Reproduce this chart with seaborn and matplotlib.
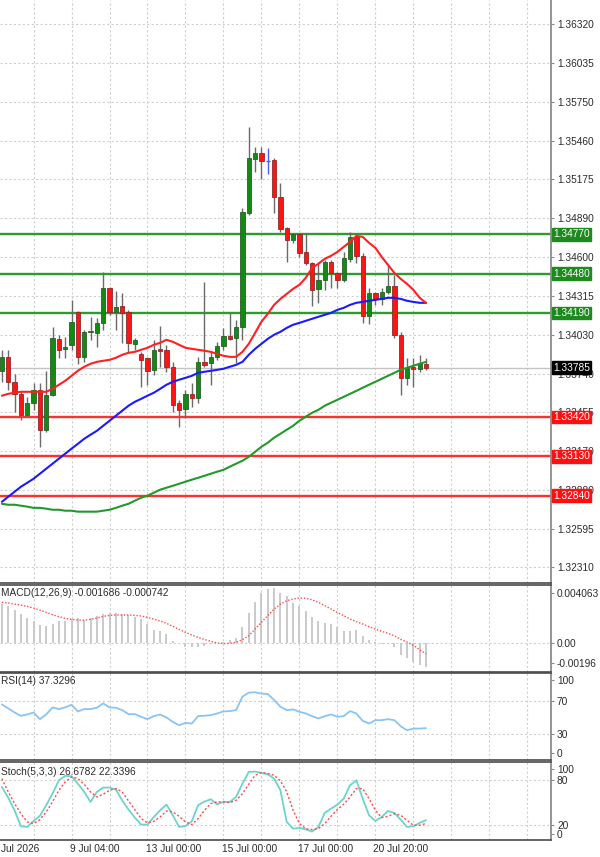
import numpy as np
import pandas as pd
import matplotlib
matplotlib.use("Agg")
import matplotlib.pyplot as plt
import matplotlib.transforms as mtransforms
import seaborn as sns

sns.set_theme(style="white")
plt.rcParams['font.family'] = ['Liberation Sans', 'DejaVu Sans']

# ---------------- data (4H candles) ----------------
opens = [1.33762, 1.33865, 1.33681, 1.33592, 1.33437, 1.33526, 1.33622, 1.33327, 1.33585, 1.33998,
         1.33924, 1.33954, 1.34197, 1.33865, 1.34050, 1.34042, 1.34116, 1.34375, 1.34197, 1.34242,
         1.34197, 1.33961, 1.33887, 1.33858, 1.33769, 1.33924, 1.33917, 1.33792, 1.33526, 1.33482,
         1.33592, 1.33563, 1.33828, 1.33821, 1.33865, 1.33947, 1.34020, 1.34006, 1.34087, 1.34928,
         1.35327, 1.35371, 1.35312, 1.35319, 1.35046, 1.34817, 1.34729, 1.34773, 1.34640, 1.34559,
         1.34367, 1.34434, 1.34566, 1.34485, 1.34434, 1.34589, 1.34751, 1.34611, 1.34168, 1.34338,
         1.34293, 1.34345, 1.34389, 1.34028, 1.33710, 1.33792, 1.33777, 1.33814]
highs = [1.33917, 1.33917, 1.33740, 1.33607, 1.33570, 1.33673, 1.33673, 1.33762, 1.34087, 1.34028,
         1.34013, 1.34286, 1.34205, 1.34065, 1.34161, 1.34153, 1.34493, 1.34382, 1.34352, 1.34338,
         1.34212, 1.34006, 1.33902, 1.33865, 1.33991, 1.34094, 1.33954, 1.33828, 1.33548, 1.33622,
         1.33673, 1.33865, 1.34419, 1.33902, 1.33976, 1.34079, 1.34190, 1.34138, 1.34965, 1.35563,
         1.35415, 1.35415, 1.35408, 1.35334, 1.35149, 1.34825, 1.34780, 1.34780, 1.34780, 1.34566,
         1.34566, 1.34581, 1.34581, 1.34493, 1.34640, 1.34788, 1.34773, 1.34633, 1.34375, 1.34345,
         1.34375, 1.34544, 1.34471, 1.34050, 1.33858, 1.33858, 1.33880, 1.33858]
lows = [1.33681, 1.33622, 1.33459, 1.33400, 1.33423, 1.33474, 1.33201, 1.33312, 1.33578, 1.33858,
        1.33858, 1.33917, 1.33814, 1.33828, 1.33991, 1.33939, 1.34065, 1.34175, 1.34065, 1.33969,
        1.33895, 1.33917, 1.33644, 1.33659, 1.33733, 1.33792, 1.33755, 1.33459, 1.33349, 1.33415,
        1.33496, 1.33526, 1.33792, 1.33659, 1.33843, 1.33917, 1.33991, 1.33821, 1.33991, 1.34913,
        1.35231, 1.35179, 1.35216, 1.34928, 1.34788, 1.34566, 1.34707, 1.34603, 1.34544, 1.34242,
        1.34264, 1.34360, 1.34375, 1.34375, 1.34419, 1.34566, 1.34559, 1.34116, 1.34109, 1.34249,
        1.34249, 1.34330, 1.34006, 1.33585, 1.33659, 1.33644, 1.33755, 1.33769]
closes = [1.33865, 1.33681, 1.33592, 1.33437, 1.33526, 1.33622, 1.33327, 1.33585, 1.34006, 1.33917,
          1.33939, 1.34124, 1.33865, 1.34050, 1.34057, 1.34116, 1.34375, 1.34197, 1.34234, 1.34190,
          1.33969, 1.33991, 1.33843, 1.33762, 1.33917, 1.33910, 1.33792, 1.33511, 1.33474, 1.33592,
          1.33563, 1.33828, 1.33806, 1.33865, 1.33947, 1.34020, 1.33998, 1.34087, 1.34935, 1.35334,
          1.35371, 1.35312, 1.35312, 1.35046, 1.34810, 1.34729, 1.34773, 1.34633, 1.34559, 1.34360,
          1.34434, 1.34566, 1.34485, 1.34434, 1.34596, 1.34751, 1.34611, 1.34168, 1.34338, 1.34293,
          1.34345, 1.34389, 1.34028, 1.33710, 1.33784, 1.33777, 1.33821, 1.33785]

ma_fast = [1.33578, 1.33592, 1.33600, 1.33607, 1.33607, 1.33607, 1.33607, 1.33607, 1.33629, 1.33659,
           1.33688, 1.33725, 1.33762, 1.33792, 1.33814, 1.33828, 1.33836, 1.33843, 1.33858, 1.33880,
           1.33895, 1.33902, 1.33917, 1.33932, 1.33954, 1.33969, 1.33991, 1.33976, 1.33954, 1.33932,
           1.33924, 1.33917, 1.33910, 1.33902, 1.33887, 1.33873, 1.33865, 1.33865, 1.33902, 1.33961,
           1.34042, 1.34124, 1.34183, 1.34249, 1.34293, 1.34330, 1.34367, 1.34397, 1.34448, 1.34522,
           1.34552, 1.34589, 1.34611, 1.34640, 1.34677, 1.34714, 1.34758, 1.34751, 1.34707, 1.34670,
           1.34603, 1.34544, 1.34485, 1.34441, 1.34404, 1.34360, 1.34301, 1.34264]
ma_mid = [1.32795, 1.32832, 1.32869, 1.32906, 1.32935, 1.32965, 1.33002, 1.33039, 1.33076, 1.33113,
          1.33150, 1.33187, 1.33223, 1.33260, 1.33290, 1.33319, 1.33356, 1.33393, 1.33430, 1.33467,
          1.33504, 1.33533, 1.33555, 1.33578, 1.33600, 1.33629, 1.33659, 1.33681, 1.33696, 1.33710,
          1.33725, 1.33747, 1.33755, 1.33762, 1.33769, 1.33777, 1.33792, 1.33806, 1.33828, 1.33880,
          1.33924, 1.33961, 1.33998, 1.34028, 1.34050, 1.34079, 1.34102, 1.34116, 1.34131, 1.34146,
          1.34161, 1.34175, 1.34190, 1.34212, 1.34227, 1.34249, 1.34264, 1.34271, 1.34279, 1.34286,
          1.34293, 1.34301, 1.34301, 1.34293, 1.34279, 1.34271, 1.34264, 1.34264]
ma_slow = [1.32780, 1.32773, 1.32773, 1.32766, 1.32759, 1.32750, 1.32750, 1.32744, 1.32736, 1.32736,
           1.32729, 1.32729, 1.32722, 1.32722, 1.32722, 1.32722, 1.32729, 1.32736, 1.32750, 1.32766,
           1.32780, 1.32803, 1.32825, 1.32840, 1.32862, 1.32884, 1.32899, 1.32913, 1.32928, 1.32943,
           1.32958, 1.32972, 1.32987, 1.33002, 1.33017, 1.33031, 1.33054, 1.33076, 1.33098, 1.33127,
           1.33164, 1.33201, 1.33231, 1.33268, 1.33297, 1.33327, 1.33356, 1.33393, 1.33423, 1.33452,
           1.33474, 1.33504, 1.33526, 1.33548, 1.33570, 1.33592, 1.33614, 1.33637, 1.33659, 1.33681,
           1.33703, 1.33725, 1.33747, 1.33769, 1.33784, 1.33799, 1.33814, 1.33828]

macd_hist = [0.00278, 0.00267, 0.00236, 0.00208, 0.00177, 0.00160, 0.00130, 0.00125, 0.00137, 0.00156,
             0.00160, 0.00172, 0.00177, 0.00165, 0.00179, 0.00196, 0.00208, 0.00215, 0.00212, 0.00208,
             0.00203, 0.00184, 0.00172, 0.00137, 0.00094, 0.00090, 0.00066, 0.00019, 0.00003, -0.00024,
             -0.00028, -0.00024, -0.00017, -0.00005, 0.00004, 0.00010, 0.00024, 0.00038, 0.00118, 0.00212,
             0.00290, 0.00360, 0.00382, 0.00390, 0.00355, 0.00335, 0.00283, 0.00267, 0.00231, 0.00189,
             0.00156, 0.00142, 0.00137, 0.00113, 0.00090, 0.00090, 0.00094, 0.00054, 0.00024, 0.00007,
             -0.00002, -0.00005, -0.00028, -0.00080, -0.00104, -0.00135, -0.00151, -0.001686]
macd_signal = [0.00290, 0.00286, 0.00278, 0.00271, 0.00262, 0.00250, 0.00236, 0.00219, 0.00203, 0.00189,
               0.00177, 0.00170, 0.00165, 0.00165, 0.00170, 0.00179, 0.00191, 0.00198, 0.00201, 0.00201,
               0.00201, 0.00198, 0.00194, 0.00184, 0.00172, 0.00158, 0.00142, 0.00120, 0.00099, 0.00078,
               0.00059, 0.00042, 0.00028, 0.00014, 0.00002, -0.00002, 0.00000, 0.00007, 0.00026, 0.00054,
               0.00101, 0.00149, 0.00196, 0.00243, 0.00278, 0.00302, 0.00314, 0.00321, 0.00319, 0.00309,
               0.00290, 0.00267, 0.00243, 0.00219, 0.00196, 0.00172, 0.00153, 0.00137, 0.00118, 0.00101,
               0.00085, 0.00071, 0.00054, 0.00028, 0.00009, -0.00015, -0.00045, -0.000742]

rsi_vals = [65.6, 60.8, 56.0, 52.0, 53.6, 56.0, 48.0, 53.6, 62.0, 60.0,
            62.0, 65.2, 57.2, 60.0, 60.0, 61.6, 66.8, 62.0, 61.6, 58.8,
            54.0, 54.0, 50.8, 48.0, 51.6, 53.6, 50.0, 44.8, 40.8, 43.6,
            42.8, 51.6, 52.0, 52.8, 54.8, 57.2, 57.6, 58.8, 74.8, 79.6,
            80.0, 78.4, 78.0, 70.8, 62.8, 58.8, 59.6, 56.8, 54.8, 51.6,
            48.8, 51.6, 53.6, 50.8, 51.6, 57.6, 54.8, 46.0, 42.8, 46.8,
            46.8, 48.0, 46.8, 39.6, 34.8, 36.8, 36.8, 37.33]

stoch_k = [70.4, 56.3, 39.7, 18.7, 17.8, 25.7, 32.3, 46.3, 61.6, 79.1,
           84.8, 84.4, 74.7, 63.8, 50.7, 63.8, 69.5, 69.5, 66.9, 52.8,
           40.6, 30.1, 20.9, 20.9, 30.9, 39.7, 47.2, 33.1, 17.8, 19.1,
           25.3, 46.3, 51.1, 54.2, 47.6, 50.7, 50.7, 57.2, 74.7, 90.1,
           90.5, 88.8, 87.0, 81.3, 66.0, 24.4, 15.6, 16.5, 14.7, 11.7,
           17.8, 36.2, 41.9, 47.2, 55.0, 72.6, 79.1, 55.0, 33.1, 25.7,
           30.9, 38.8, 36.2, 27.4, 17.8, 18.7, 23.1, 26.68]
stoch_d = [81.3, 63.8, 48.5, 35.3, 24.4, 22.2, 27.4, 37.5, 50.7, 66.0,
           76.9, 83.5, 81.3, 73.9, 63.8, 57.2, 60.7, 66.0, 68.2, 63.8,
           52.0, 40.6, 28.8, 23.1, 25.3, 30.9, 38.8, 37.5, 31.8, 24.4,
           20.9, 28.8, 39.7, 48.5, 50.7, 50.7, 49.8, 52.8, 61.6, 73.9,
           85.7, 89.2, 87.9, 85.7, 78.2, 63.8, 39.7, 22.2, 15.6, 14.3,
           15.6, 22.2, 31.8, 40.6, 47.6, 57.2, 68.2, 68.2, 55.0, 39.7,
           30.1, 31.8, 35.3, 33.1, 26.6, 20.0, 20.0, 22.34]

price_ticks = [1.36320, 1.36035, 1.35750, 1.35460, 1.35175, 1.34890, 1.34600, 1.34315,
               1.34030, 1.33740, 1.33455, 1.33170, 1.32880, 1.32595, 1.32310]
green_levels = [1.34770, 1.34480, 1.34190]
red_levels = [1.33420, 1.33130, 1.32840]
last_price = 1.33785

macd_label = "MACD(12,26,9) -0.001686 -0.000742"
rsi_label = "RSI(14) 37.3296"
stoch_label = "Stoch(5,3,3) 26.6782 22.3396"
date_labels = ["Jul 2026", "9 Jul 04:00", "13 Jul 00:00", "15 Jul 00:00", "17 Jul 00:00", "20 Jul 20:00"]
date_label_bars = [0.17, 11, 23, 35, 47, 59]

# ---------------- figure ----------------
W, H = 600, 857
fig = plt.figure(figsize=(W / 100, H / 100), dpi=100)
fig.patch.set_facecolor("white")
RIGHT = 550.7


def rect(top, bottom):
    return [0, 1 - bottom / H, RIGHT / W, (bottom - top) / H]


ax = fig.add_axes(rect(0, 583.3))
axm = fig.add_axes(rect(585, 671.7), sharex=ax)
axr = fig.add_axes(rect(673.3, 760), sharex=ax)
axs = fig.add_axes(rect(761.7, 840), sharex=ax)

idx = np.arange(len(closes))
df = pd.DataFrame({"bar": idx, "open": opens, "high": highs, "low": lows, "close": closes,
                   "ma_fast": ma_fast, "ma_mid": ma_mid, "ma_slow": ma_slow,
                   "hist": macd_hist, "signal": macd_signal, "rsi": rsi_vals,
                   "k": stoch_k, "d": stoch_d})

TXT = "#2b2b2b"
GRID = "#cfcfcf"
FS = 7.3
grid_bars = np.arange(5, 87, 6)

for a in (ax, axm, axr, axs):
    a.set_facecolor("white")
    a.set_xlim(-0.3, 86.7)
    for gb in grid_bars:
        a.axvline(gb, color=GRID, lw=0.8, ls=(0, (2, 2)), zorder=0)
    a.spines["left"].set_visible(False)
    a.spines["right"].set_color("#8c8c8c")
    a.spines["right"].set_linewidth(1.3)
    a.spines["top"].set_color("#4a4a4a")
    a.spines["bottom"].set_color("#4a4a4a")
    a.spines["top"].set_linewidth(1.2)
    a.spines["bottom"].set_linewidth(1.2)
    a.tick_params(axis="x", bottom=False, labelbottom=False)
    a.yaxis.tick_right()
    a.tick_params(axis="y", right=True, left=False, labelleft=False, labelright=True,
                  length=2.5, width=0.8, color="#8c8c8c", pad=2.0, labelsize=FS, labelcolor=TXT)
    a.grid(False)
ax.spines["top"].set_visible(False)

# ---------------- main price panel ----------------
ax.set_ylim(1.32193, 1.36500)
ax.set_yticks(price_ticks)
ax.set_yticklabels([f"{v:.5f}" for v in price_ticks])
for v in price_ticks:
    ax.axhline(v, color=GRID, lw=0.8, ls=(0, (2, 2)), zorder=0)

ax.axhline(last_price, color="#c4c4c4", lw=1.0, zorder=0.6)
for lv in green_levels:
    ax.axhline(lv, color="#2f9a2f", lw=1.7, zorder=1)
for lv in red_levels:
    ax.axhline(lv, color="#ff3030", lw=1.7, zorder=1)

up = df["close"] > df["open"]
dn = df["close"] < df["open"]
eq = df["close"] == df["open"]
ax.vlines(df["bar"][~eq], df["low"][~eq], df["high"][~eq], color="#6a6a6a", lw=1.0, zorder=2)
ax.vlines(df["bar"][eq], df["low"][eq], df["high"][eq], color="#4f5dff", lw=1.0, zorder=2)
ax.hlines(df["close"][eq], df["bar"][eq] - 0.34, df["bar"][eq] + 0.34, color="#4f5dff", lw=1.0, zorder=3)
ax.bar(df["bar"][up], (df["close"] - df["open"])[up], bottom=df["open"][up], width=0.68,
       color="#138a13", edgecolor="#2a5e2a", linewidth=0.6, zorder=3)
ax.bar(df["bar"][dn], (df["open"] - df["close"])[dn], bottom=df["close"][dn], width=0.68,
       color="#ff1414", edgecolor="#8a2b2b", linewidth=0.6, zorder=3)

sns.lineplot(data=df, x="bar", y="ma_slow", ax=ax, color="#22992a", lw=1.5, zorder=4)
sns.lineplot(data=df, x="bar", y="ma_mid", ax=ax, color="#1a1aff", lw=1.5, zorder=4)
sns.lineplot(data=df, x="bar", y="ma_fast", ax=ax, color="#ff2020", lw=1.5, zorder=4)
ax.set_xlabel("")
ax.set_ylabel("")

tr = mtransforms.blended_transform_factory(ax.transAxes, ax.transData)
xbox = 1 + 2.6 / RIGHT
for lv in green_levels:
    ax.text(xbox, lv, f"{lv:.5f}", transform=tr, ha="left", va="center", fontsize=FS, color="white",
            bbox=dict(boxstyle="square,pad=0.12", fc="#1c8a1c", ec="#1c8a1c"), clip_on=False, zorder=10)
for lv in red_levels:
    ax.text(xbox, lv, f"{lv:.5f}", transform=tr, ha="left", va="center", fontsize=FS, color="white",
            bbox=dict(boxstyle="square,pad=0.12", fc="#ff1010", ec="#ff1010"), clip_on=False, zorder=10)
ax.text(xbox, last_price, f"{last_price:.5f}", transform=tr, ha="left", va="center", fontsize=FS,
        color="white", bbox=dict(boxstyle="square,pad=0.12", fc="black", ec="black"),
        clip_on=False, zorder=11)

# ---------------- MACD panel ----------------
axm.set_ylim(-0.00201, 0.004134)
axm.axhline(0, color=GRID, lw=0.8, ls=(0, (2, 2)), zorder=0)
axm.vlines(df["bar"], 0, df["hist"], color="#c6c6c6", lw=1.3, zorder=2)
sns.lineplot(data=df, x="bar", y="signal", ax=axm, color="#ff4a4a", lw=1.0, ls=(0, (1, 1.3)), zorder=3)
axm.set_yticks([0.00356, 0.0, -0.0014])
axm.set_yticklabels(["0.004063", "0.00", "-0.00196"])
axm.text(0.001, 0.905, macd_label, transform=axm.transAxes, ha="left", va="center",
         fontsize=FS, color=TXT)

# ---------------- RSI panel ----------------
axr.set_ylim(-0.6, 102.6)
for v in (70, 30):
    axr.axhline(v, color=GRID, lw=0.8, ls=(0, (2, 2)), zorder=0)
sns.lineplot(data=df, x="bar", y="rsi", ax=axr, color="#8ac4f2", lw=1.3, zorder=3)
axr.set_yticks([94.6, 70, 30, 7.4])
axr.set_yticklabels(["100", "70", "30", "0"])
axr.text(0.001, 0.91, rsi_label, transform=axr.transAxes, ha="left", va="center",
         fontsize=FS, color=TXT)

# ---------------- Stochastic panel ----------------
axs.set_ylim(0.66, 103.5)
for v in (80, 20):
    axs.axhline(v, color=GRID, lw=0.8, ls=(0, (2, 2)), zorder=0)
sns.lineplot(data=df, x="bar", y="k", ax=axs, color="#6ed3cb", lw=1.3, zorder=3)
sns.lineplot(data=df, x="bar", y="d", ax=axs, color="#ff4a4a", lw=1.0, ls=(0, (1.5, 1.5)), zorder=3)
axs.set_yticks([93.9, 80, 20, 8.5])
axs.set_yticklabels(["100", "80", "20", "0"])
axs.text(0.001, 0.87, stoch_label, transform=axs.transAxes, ha="left", va="center",
         fontsize=FS, color=TXT)

for a in (axm, axr, axs):
    a.set_xlabel("")
    a.set_ylabel("")

trs = mtransforms.blended_transform_factory(axs.transData, axs.transAxes)
for lab, b in zip(date_labels, date_label_bars):
    axs.text(b - 0.3, -0.115, lab, transform=trs, ha="left", va="center", fontsize=FS,
             color=TXT, clip_on=False)

fig.savefig("out.png", dpi=100, facecolor="white")
